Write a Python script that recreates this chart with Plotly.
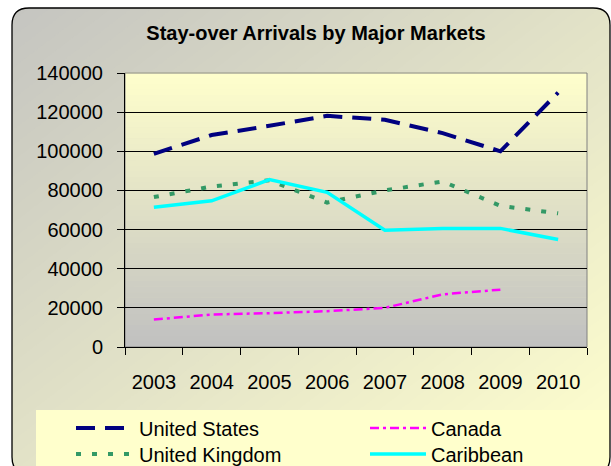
import plotly.graph_objects as go

# ---- data ----
years = ['2003', '2004', '2005', '2006', '2007', '2008', '2009', '2010']
united_states = [98700, 108300, 113000, 118100, 116100, 109300, 100000, 130000]
united_kingdom = [76600, 82000, 85200, 73800, 80000, 84600, 72100, 68300]
canada = [14000, 16600, 17300, 18300, 20000, 26900, 29300, None]
caribbean = [71400, 74700, 85500, 79000, 59700, 60600, 60600, 54900]
y_ticks = [0, 20000, 40000, 60000, 80000, 100000, 120000, 140000]

# ---- layout geometry (pixels) ----
W, H = 611, 466
L, R, T, B = 125, 587, 73, 347
FONT = "Liberation Sans, Arial, sans-serif"


def P(px, py):
    return ((px - L) / (R - L), (B - py) / (B - T))


def mix(c0, c1, t):
    t = max(0.0, min(1.0, t))
    return 'rgb(%d,%d,%d)' % tuple(round(a + (b - a) * t) for a, b in zip(c0, c1))


def path(points):
    s = ''
    for i, (px, py) in enumerate(points):
        x, y = P(px, py)
        s += ('M' if i == 0 else 'L') + '%.5f,%.5f' % (x, y)
    return s + 'Z'


shapes = []
GRAY = (196, 196, 192)
YEL = (255, 255, 206)

# outer diagonal gradient (top-left gray -> bottom-right light yellow)
N = 60
for k in range(N):
    s = 2.0 * k / N
    col = mix(GRAY, YEL, (s + 1.0 / N) / 2.0)
    pts_uv = [(s + 1, -1), (3, -1), (3, 3), (-1, 3), (-1, s + 1)]
    pts = [(u * W, v * H) for u, v in pts_uv]
    shapes.append(dict(type='path', xref='paper', yref='paper', path=path(pts),
                       fillcolor=col, line=dict(width=0), layer='below'))

# plot area vertical gradient (top yellow -> bottom gray)
M = 50
for k in range(M):
    y0 = k / M
    y1 = (k + 1) / M
    col = mix((192, 192, 192), (255, 255, 204), (y0 + y1) / 2)
    shapes.append(dict(type='rect', xref='paper', yref='paper', x0=0, x1=1, y0=y0, y1=y1 + 0.002,
                       fillcolor=col, line=dict(width=0), layer='below'))

# legend background box
lx0, ly0 = P(36, 410)
lx1, ly1 = P(620, 480)
shapes.append(dict(type='rect', xref='paper', yref='paper', x0=lx0, x1=lx1, y0=ly1, y1=ly0,
                   fillcolor='#FFFFCC', line=dict(width=0), layer='below'))


# rounded frame
def rounded(x0, y0, x1, y1, r):
    def p(px, py):
        x, y = P(px, py)
        return '%.5f,%.5f' % (x, y)
    s = 'M' + p(x0 + r, y0) + 'L' + p(x1 - r, y0)
    s += 'Q' + p(x1, y0) + ' ' + p(x1, y0 + r)
    s += 'L' + p(x1, y1 - r) + 'Q' + p(x1, y1) + ' ' + p(x1 - r, y1)
    s += 'L' + p(x0 + r, y1) + 'Q' + p(x0, y1) + ' ' + p(x0, y1 - r)
    s += 'L' + p(x0, y0 + r) + 'Q' + p(x0, y0) + ' ' + p(x0 + r, y0) + 'Z'
    return s


frame = rounded(12, 8, 610, 474, 17)
outer = path([(-20, -20), (W + 20, -20), (W + 20, H + 20), (-20, H + 20)])
shapes.append(dict(type='path', xref='paper', yref='paper', path=outer + frame,
                   fillcolor='white', fillrule='evenodd', line=dict(width=0), layer='below'))
shapes.append(dict(type='path', xref='paper', yref='paper', path=frame,
                   fillcolor='rgba(0,0,0,0)', line=dict(color='black', width=1.3), layer='below'))
# plot area border
shapes.append(dict(type='rect', xref='paper', yref='paper', x0=0, x1=1, y0=0, y1=1,
                   fillcolor='rgba(0,0,0,0)', line=dict(color='#808080', width=1), layer='below'))

fig = go.Figure()
fig.add_trace(go.Scatter(x=years, y=united_states, name='United States', mode='lines',
                         line=dict(color='#000080', width=4, dash='19px,10px'), legend='legend'))
fig.add_trace(go.Scatter(x=years, y=canada, name='Canada', mode='lines',
                         line=dict(color='#FF00FF', width=2.5, dash='9px,4px,3px,4px'), legend='legend2'))
fig.add_trace(go.Scatter(x=years, y=united_kingdom, name='United Kingdom', mode='lines',
                         line=dict(color='#339966', width=4, dash='5px,11px'), legend='legend3'))
fig.add_trace(go.Scatter(x=years, y=caribbean, name='Caribbean', mode='lines',
                         line=dict(color='#00FFFF', width=3.5), legend='legend4'))


def leg(px, py, iw):
    x, y = P(px, py)
    return dict(x=x, y=y, xanchor='left', yanchor='middle', orientation='v',
                bgcolor='rgba(0,0,0,0)', borderwidth=0, itemwidth=iw,
                font=dict(family=FONT, size=20, color='black'))


fig.update_layout(
    width=W, height=H,
    margin=dict(l=L, r=W - R, t=T, b=H - B, autoexpand=False),
    paper_bgcolor='white', plot_bgcolor='rgba(0,0,0,0)',
    title=dict(text='<b>Stay-over Arrivals by Major Markets</b>', x=(148 + 484) / 2 / W, xanchor='center',
               y=1 - 33 / H, yanchor='middle', font=dict(family=FONT, size=20, color='black')),
    shapes=shapes,
    hovermode=False,
    showlegend=True,
    legend=leg(71, 428, 58),
    legend2=leg(365, 428, 56),
    legend3=leg(71, 454, 58),
    legend4=leg(365, 454, 56),
    xaxis=dict(type='category', range=[-0.5, 7.5], tickson='boundaries', ticks='outside', ticklen=7,
               tickcolor='black', showline=True, linecolor='black', linewidth=1, showgrid=False,
               zeroline=False, ticklabelstandoff=17, tickangle=0,
               tickfont=dict(family=FONT, size=20, color='black')),
    yaxis=dict(range=[0, 140000], tickvals=y_ticks, tickformat='d', ticks='outside', ticklen=7,
               tickcolor='black', showline=True, linecolor='black', linewidth=1, showgrid=True,
               gridcolor='black', gridwidth=1, zeroline=False, ticklabelstandoff=10,
               tickfont=dict(family=FONT, size=20, color='black')),
)

fig.write_html('out.html', config={'displayModeBar': False},
               post_script="document.body.style.margin='0';document.body.style.overflow='hidden';")
